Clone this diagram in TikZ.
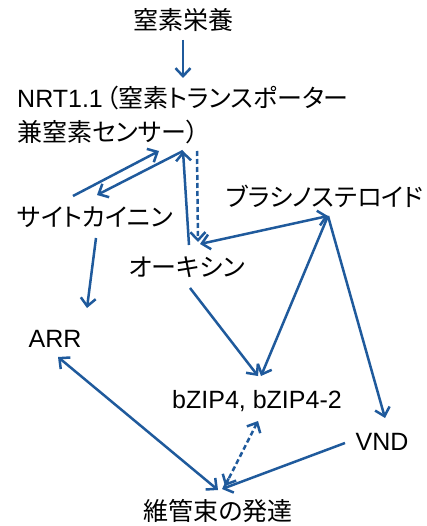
\documentclass[tikz,border=0pt]{standalone}
\usepackage{fontspec}
\setmainfont{Liberation Sans}
\newfontfamily\cjk[RawFeature=+palt]{Noto Sans CJK JP}
\usetikzlibrary{arrows.meta}
\definecolor{arrblue}{HTML}{1F5A9C}
\tikzset{
  lbl/.style={inner sep=0pt, font=\fontsize{25}{34}\selectfont, text=black},
  arr/.style={draw=arrblue, line width=2.5pt, -{Straight Barb[length=8pt,width=15pt,line width=2.5pt]}},
  darr/.style={arr, {Straight Barb[length=8pt,width=15pt,line width=2.5pt]}-{Straight Barb[length=8pt,width=15pt,line width=2.5pt]}},
  dsh/.style={dash pattern=on 5pt off 3pt}
}
\begin{document}
\begin{tikzpicture}[x=1pt,y=-1pt]
\useasboundingbox[fill=white] (0,0) rectangle (427,526);
% nodes
\node[lbl, anchor=base] (ntr) at (183,30) {\cjk 窒素栄養};
\node[lbl, anchor=north west, align=left] (nrt) at (17,86) {NRT1.1\kern3pt{\cjk （窒素トランスポーター}\\{\cjk 兼窒素センサー）}};
\node[lbl, anchor=base] (cyt) at (95,226) {\cjk サイトカイニン};
\node[lbl, anchor=base] (bra) at (325,207) {\cjk ブラシノステロイド};
\node[lbl, anchor=base] (aux) at (187,276) {\cjk オーキシン};
\node[lbl, anchor=base] (arr) at (55,347) {ARR};
\node[lbl, anchor=base] (bzip) at (257,408) {bZIP4, bZIP4-2};
\node[lbl, anchor=base] (vnd) at (382,450) {VND};
\node[lbl, anchor=base] (vas) at (218,520) {\cjk 維管束の発達};
% ports
\coordinate (ntrS) at (183,40);
\coordinate (nrtN) at (183,78);
\coordinate (nrtL) at (159,151);
\coordinate (nrtC) at (183,151);
\coordinate (nrtR) at (197,151);
\coordinate (cytU) at (73,196);
\coordinate (cytH) at (97,195);
\coordinate (cytD) at (96,238);
\coordinate (auxU) at (189,245);
\coordinate (auxH) at (198,242);
\coordinate (auxR) at (200,244);
\coordinate (auxD) at (190,288);
\coordinate (braD) at (328,216);
\coordinate (bzipU) at (258,376);
\coordinate (bzipV) at (261,376);
\coordinate (bzipD) at (258,421);
\coordinate (vndU) at (385,418);
\coordinate (vndL) at (345,443);
\coordinate (arrU) at (87,308);
\coordinate (arrD) at (58,357);
\coordinate (vasA) at (218,490);
\coordinate (vasB) at (225,486);
\coordinate (vasC) at (222,489);
% connectors
\draw[arr] (ntrS) -- (nrtN);
\draw[arr] (cytU) -- (nrtL);
\draw[arr] (nrtC) -- (cytH);
\draw[arr] (auxU) -- (nrtC);
\draw[arr,dsh] (nrtR) -- (auxH);
\draw[darr] (auxR) -- (braD);
\draw[arr] (auxD) -- (bzipU);
\draw[arr] (braD) -- (bzipV);
\draw[arr] (braD) -- (vndU);
\draw[arr] (cytD) -- (arrU);
\draw[darr] (arrD) -- (vasA);
\draw[darr,dsh] (bzipD) -- (vasB);
\draw[arr] (vndL) -- (vasC);
\end{tikzpicture}
\end{document}
